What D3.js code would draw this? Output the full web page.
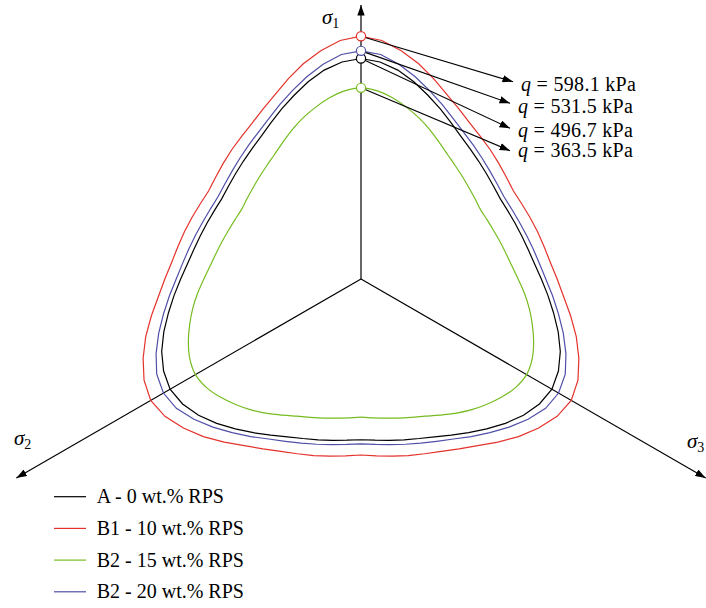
<!DOCTYPE html>
<html>
<head>
<meta charset="utf-8">
<script src="https://cdn.jsdelivr.net/npm/d3@7"></script>
<style>
  body { margin: 0; background: #fff; }
  svg { display: block; }
  text { font-family: "Liberation Serif", "Times New Roman", serif; fill: #000; }
</style>
</head>
<body>
<svg id="chart" width="706" height="608"></svg>
<script>
// Lode angle, measured from the nearest compression meridian (degrees)
const lodeAngles = [0, 5, 10, 15, 20, 25, 30, 35, 40, 45, 50, 55, 60];

// Mixes and their deviatoric strength on the compression meridian (kPa)
const seriesNames = ["A - 0 wt.% RPS", "B1 - 10 wt.% RPS", "B2 - 15 wt.% RPS", "B2 - 20 wt.% RPS"];
const peakQ = [496.7, 598.1, 363.5, 531.5];

// Failure-surface radius relative to the compression meridian, per Lode angle
const shapeA   = [1.000, 0.988, 0.962, 0.926, 0.887, 0.851, 0.818, 0.790, 0.770, 0.755, 0.743, 0.734, 0.729];
const shapeB1  = [1.000, 0.986, 0.955, 0.918, 0.877, 0.838, 0.808, 0.783, 0.766, 0.753, 0.741, 0.731, 0.725];
const shapeB15 = [1.000, 0.988, 0.961, 0.928, 0.894, 0.858, 0.822, 0.792, 0.770, 0.753, 0.739, 0.729, 0.723];
const shapeB20 = [1.000, 0.988, 0.956, 0.918, 0.879, 0.843, 0.810, 0.785, 0.766, 0.750, 0.737, 0.728, 0.723];

// Principal stress axes: index shown as subscript, direction in the deviatoric plane (deg, clockwise from up)
const axisIndex = ["1", "3", "2"];
const axisDirection = [0, 120, 240];

const shapes = [shapeA, shapeB1, shapeB15, shapeB20];
const colors = ["#000000", "#e4322b", "#76bc21", "#4f4fa8"];
const smooth = [false, false, true, false];

const svg = d3.select("#chart");
const cx = 361, cy = 279;

// radius in px for a deviatoric stress value
const rScale = d3.scaleLinear().domain([0, 600]).range([111.2, 243.2]);
const toRad = d => d * Math.PI / 180;

// arrowhead
const defs = svg.append("defs");
defs.append("marker")
  .attr("id", "arrow")
  .attr("viewBox", "0 0 10 7")
  .attr("refX", 10).attr("refY", 3.5)
  .attr("markerWidth", 10.5).attr("markerHeight", 7.5)
  .attr("markerUnits", "userSpaceOnUse")
  .attr("orient", "auto")
  .append("path").attr("d", "M0,0L10,3.5L0,7Z").attr("fill", "#000");

const plot = svg.append("g").attr("transform", `translate(${cx},${cy})`);

// principal axes
const axisLen = [274, 398, 398];
axisDirection.forEach((deg, i) => {
  const a = toRad(deg), L = axisLen[i];
  plot.append("line")
    .attr("x1", 0).attr("y1", 0)
    .attr("x2", L * Math.sin(a)).attr("y2", -L * Math.cos(a))
    .attr("stroke", "#000").attr("stroke-width", 1.2)
    .attr("marker-end", "url(#arrow)");
});

// axis labels
const axisLabelPos = [[322, 24], [687, 448], [14, 445]];
axisIndex.forEach((idx, i) => {
  const t = svg.append("text")
    .attr("x", axisLabelPos[i][0]).attr("y", axisLabelPos[i][1])
    .attr("font-size", 21);
  t.append("tspan").attr("font-style", "italic").text("σ");
  t.append("tspan").attr("font-size", 14).attr("dy", 3.5).text(idx);
});

// failure surfaces: mirror and three-fold symmetry around the compression meridians
function surfacePoints(q, shape) {
  const r0 = rScale(q);
  const pts = [];
  for (let k = 0; k < 3; k++) {
    for (let i = 0; i < lodeAngles.length; i++)
      pts.push({ a: toRad(120 * k + lodeAngles[i]), r: r0 * shape[i] });
    for (let i = lodeAngles.length - 2; i >= 1; i--)
      pts.push({ a: toRad(120 * k + 120 - lodeAngles[i]), r: r0 * shape[i] });
  }
  return pts;
}

peakQ.forEach((q, i) => {
  const line = d3.lineRadial()
    .angle(d => d.a).radius(d => d.r)
    .curve(smooth[i] ? d3.curveCatmullRomClosed.alpha(0.5) : d3.curveLinearClosed);
  plot.append("path")
    .attr("d", line(surfacePoints(q, shapes[i])))
    .attr("fill", "none")
    .attr("stroke", colors[i])
    .attr("stroke-width", 1.2);
});

// callouts, ordered from the largest strength down
const order = d3.range(peakQ.length).sort((a, b) => peakQ[b] - peakQ[a]);
const tipX = [152, 149, 149, 149];
const tipY = [-197.3, -175.7, -150.7, -128.3];
const baseY = [91, 112.5, 137, 157];
const fmt = d3.format(".1f");

order.forEach((s, j) => {
  plot.append("line")
    .attr("x1", 0).attr("y1", -rScale(peakQ[s]))
    .attr("x2", tipX[j]).attr("y2", tipY[j])
    .attr("stroke", "#000").attr("stroke-width", 1.1)
    .attr("marker-end", "url(#arrow)");
  const t = svg.append("text")
    .attr("x", cx + tipX[j] + 8).attr("y", baseY[j])
    .attr("font-size", 20)
    .attr("letter-spacing", 0.3);
  t.append("tspan").attr("font-style", "italic").text("q");
  t.append("tspan").text(` = ${fmt(peakQ[s])} kPa`);
});

// peak markers
peakQ.forEach((q, i) => {
  plot.append("circle")
    .attr("cx", 0).attr("cy", -rScale(q)).attr("r", 4.6)
    .attr("fill", "#fff")
    .attr("stroke", colors[i]).attr("stroke-width", 1.2);
});

// legend
const legend = svg.append("g").attr("transform", "translate(54,496.7)");
seriesNames.forEach((name, i) => {
  const g = legend.append("g").attr("transform", `translate(0,${i * 31.7})`);
  g.append("line").attr("x1", 0).attr("x2", 32).attr("y1", 0).attr("y2", 0)
    .attr("stroke", colors[i]).attr("stroke-width", 1.2);
  g.append("text").attr("x", 42.7).attr("y", 6.4).attr("font-size", 20).text(name);
});
</script>
</body>
</html>
